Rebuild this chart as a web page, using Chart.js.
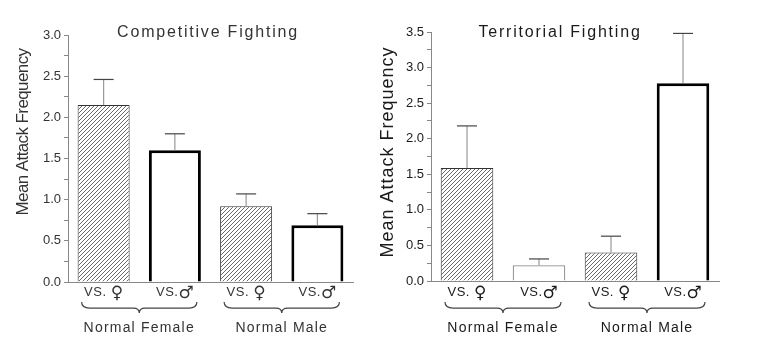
<!DOCTYPE html>
<html>
<head>
<meta charset="utf-8">
<script src="https://cdn.jsdelivr.net/npm/chart.js@4.4.0/dist/chart.umd.min.js"></script>
<style>
  html, body { margin: 0; padding: 0; background: #fff; }
  #wrap { position: relative; width: 780px; height: 360px; overflow: hidden; }
  canvas { position: absolute; top: 0; }
</style>
</head>
<body>
<div id="wrap">
  <canvas id="left" width="380" height="360" style="left:0"></canvas>
  <canvas id="right" width="400" height="360" style="left:380px"></canvas>
</div>
<script>
// data
const opponents = ['VS. ♀', 'VS.♂', 'VS. ♀', 'VS.♂'];
const groups = ['Normal Female', 'Normal Male'];
const competitiveMeans = [2.15, 1.60, 0.92, 0.69];
const competitiveErr = [0.31, 0.20, 0.15, 0.14];
const territorialMeans = [1.59, 0.22, 0.40, 2.78];
const territorialErr = [0.59, 0.09, 0.23, 0.70];
const competitiveMax = 3.0;
const territorialMax = 3.5;

const FONT = '"Liberation Sans", Arial, "DejaVu Sans", sans-serif';

function hatch() {
  const s = 4;
  const c = document.createElement('canvas');
  c.width = s; c.height = s;
  const g = c.getContext('2d');
  g.fillStyle = '#fff';
  g.fillRect(0, 0, s, s);
  g.strokeStyle = '#6a6a6a';
  g.lineWidth = 1;
  g.beginPath();
  g.moveTo(-1, s + 1);
  g.lineTo(s + 1, -1);
  g.stroke();
  return g.createPattern(c, 'repeat');
}

function drawBrace(ctx, a, b, top, bot) {
  const m = (a + b) / 2, mid = top + (bot - top) * 0.55;
  ctx.beginPath();
  ctx.moveTo(a, top);
  ctx.quadraticCurveTo(a, mid, a + 8, mid);
  ctx.lineTo(m - 6, mid);
  ctx.quadraticCurveTo(m, mid, m, bot);
  ctx.quadraticCurveTo(m, mid, m + 6, mid);
  ctx.lineTo(b - 8, mid);
  ctx.quadraticCurveTo(b, mid, b, top);
  ctx.stroke();
}

// upper error bars with caps
const errorBars = {
  id: 'errorBars',
  afterDatasetsDraw(chart, args, o) {
    const ctx = chart.ctx, ys = chart.scales.y;
    const meta = chart.getDatasetMeta(0);
    const vals = chart.data.datasets[0].data;
    ctx.save();
    meta.data.forEach((bar, i) => {
      const top = ys.getPixelForValue(vals[i] + o.err[i]);
      ctx.strokeStyle = '#999';
      ctx.lineWidth = 1.2;
      ctx.beginPath();
      ctx.moveTo(bar.x, bar.y);
      ctx.lineTo(bar.x, top);
      ctx.stroke();
      ctx.strokeStyle = '#444';
      ctx.beginPath();
      ctx.moveTo(bar.x - 10, top);
      ctx.lineTo(bar.x + 10, top);
      ctx.stroke();
    });
    ctx.restore();
  }
};

// titles, y label, category labels, braces and group names
const decor = {
  id: 'decor',
  afterDraw(chart, args, o) {
    const ctx = chart.ctx, xs = chart.scales.x;
    ctx.save();
    ctx.fillStyle = o.color;
    ctx.strokeStyle = '#444';
    ctx.lineWidth = 1.2;
    ctx.textAlign = 'center';
    ctx.textBaseline = 'alphabetic';

    ctx.font = '16px ' + FONT;
    ctx.letterSpacing = '1.8px';
    ctx.fillText(o.title, o.titleX, 37);

    ctx.save();
    ctx.translate(o.yTitleX, o.yTitleY);
    ctx.rotate(-Math.PI / 2);
    ctx.font = o.yTitleSize + 'px ' + FONT;
    ctx.letterSpacing = o.yTitleSpacing;
    ctx.fillText('Mean Attack Frequency', 0, 0);
    ctx.restore();

    // category labels: "VS." text plus a larger sex symbol
    ctx.textAlign = 'left';
    chart.data.labels.forEach((lab, i) => {
      const pre = lab.slice(0, -1), sym = lab.slice(-1);
      ctx.font = '13px ' + FONT;
      ctx.letterSpacing = '0.5px';
      const w1 = ctx.measureText(pre).width;
      ctx.font = 'bold 17px "DejaVu Sans", sans-serif';
      ctx.letterSpacing = '0px';
      const w2 = ctx.measureText(sym).width;
      const x0 = xs.getPixelForValue(i) - (w1 + w2) / 2;
      ctx.font = '13px ' + FONT;
      ctx.letterSpacing = '0.5px';
      ctx.fillText(pre, x0, 296);
      ctx.font = 'bold 17px "DejaVu Sans", sans-serif';
      ctx.letterSpacing = '0px';
      ctx.fillText(sym, x0 + w1, 298);
    });

    ctx.textAlign = 'center';
    ctx.font = '14px ' + FONT;
    ctx.letterSpacing = '1.2px';
    groups.forEach((g, i) => {
      const a = xs.getPixelForValue(2 * i) - 22;
      const b = xs.getPixelForValue(2 * i + 1) + 22;
      drawBrace(ctx, a, b, 302, 313);
      ctx.fillText(g, (a + b) / 2, 332);
    });
    ctx.restore();
  }
};

function makeChart(id, means, err, yMax, geo) {
  const h = hatch();
  return new Chart(document.getElementById(id), {
    type: 'bar',
    data: {
      labels: opponents,
      datasets: [{
        data: means,
        backgroundColor: [h, '#fff', h, '#fff'],
        borderColor: geo.borderColor,
        borderWidth: geo.borderWidth,
        borderSkipped: 'bottom',
        categoryPercentage: 1,
        barPercentage: 0.73
      }]
    },
    options: {
      responsive: false,
      animation: false,
      layout: { padding: { left: 0, right: geo.padRight, top: geo.padTop, bottom: 0 } },
      plugins: {
        legend: { display: false },
        tooltip: { enabled: false },
        errorBars: { err: err },
        decor: geo.decor
      },
      scales: {
        x: {
          afterFit(scale) { scale.height = geo.xHeight; },
          grid: { display: true, drawOnChartArea: false, drawTicks: false },
          border: { display: true, color: '#888', width: 1 },
          ticks: { display: false }
        },
        y: {
          min: 0,
          max: yMax,
          afterFit(scale) { scale.width = geo.yWidth; },
          grid: { drawOnChartArea: false, drawTicks: true, tickLength: 4, color: '#888' },
          border: { display: true, color: '#888', width: 1 },
          ticks: {
            stepSize: 0.25,
            autoSkip: false,
            padding: 3,
            color: geo.decor.color,
            font: { family: FONT, size: 13 },
            callback: v => Math.abs(v * 2 - Math.round(v * 2)) < 1e-6 ? v.toFixed(1) : ''
          }
        }
      }
    },
    plugins: [errorBars, decor]
  });
}

makeChart('left', competitiveMeans, competitiveErr, competitiveMax, {
  yWidth: 68, padRight: 27, padTop: 35, xHeight: 78,
  borderColor: ['#333', '#000', '#333', '#000'],
  borderWidth: [1, 3, 1, 3],
  decor: { color: '#333', title: 'Competitive Fighting', titleX: 208,
           yTitleX: 28, yTitleY: 132, yTitleSize: 17, yTitleSpacing: '-0.6px' }
});

makeChart('right', territorialMeans, territorialErr, territorialMax, {
  yWidth: 51, padRight: 61, padTop: 32, xHeight: 79,
  borderColor: ['#333', '#888', '#333', '#000'],
  borderWidth: [1, 1.2, 1, 3],
  decor: { color: '#1a1a1a', title: 'Territorial Fighting', titleX: 180,
           yTitleX: 13, yTitleY: 152, yTitleSize: 18, yTitleSpacing: '1px' }
});
</script>
</body>
</html>
